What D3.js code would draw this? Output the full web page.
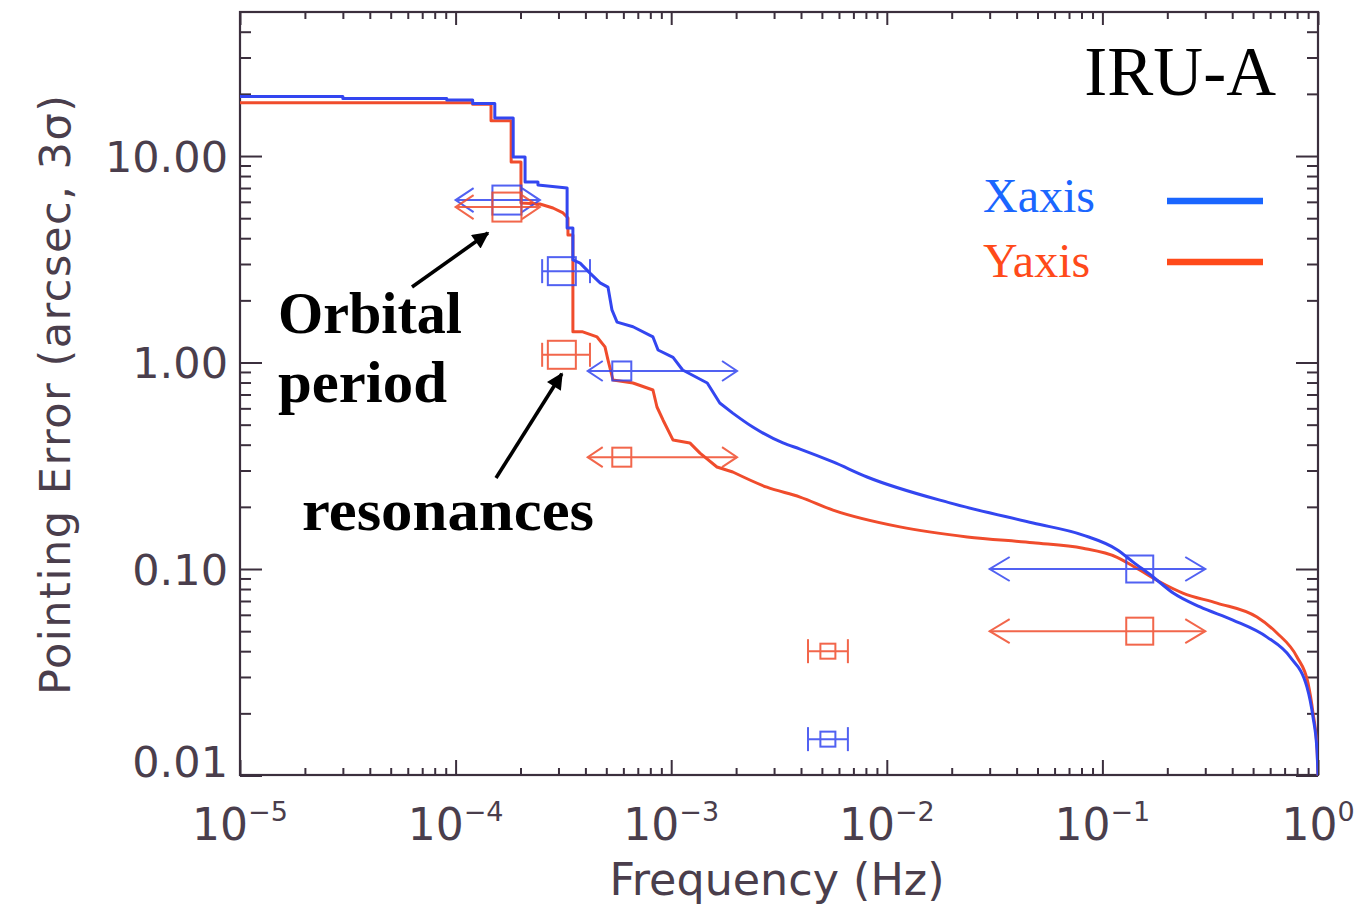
<!DOCTYPE html>
<html>
<head>
<meta charset="utf-8">
<script src="https://cdn.jsdelivr.net/npm/d3@7/dist/d3.min.js"></script>
<style>
  body { margin: 0; background: #fff; }
  svg { display: block; }
</style>
</head>
<body>
<svg id="chart" width="1367" height="909"></svg>
<script>
// ---- axis setup ----
const xDomain = [1e-5, 1];
const yDomain = [0.01, 50];
const xMajorTicks = [1e-5, 1e-4, 1e-3, 1e-2, 1e-1, 1];
const xTickExponents = ["\u22125", "\u22124", "\u22123", "\u22122", "\u22121", "0"];
const yMajorTicks = [0.01, 0.1, 1, 10];
const yTickLabels = ["0.01", "0.10", "1.00", "10.00"];
const xAxisTitle = "Frequency (Hz)";
const yAxisTitle = "Pointing Error (arcsec, 3\u03c3)";
const chartTitle = "IRU-A";
const seriesNames = ["Xaxis", "Yaxis"];

// ---- cumulative pointing error vs frequency [Hz, arcsec] ----
const xaxisCurve = [
  [1e-5, 19.4], [3.0e-5, 19.4], [3.0e-5, 19.0], [9.1e-5, 19.0], [9.1e-5, 18.7],
  [1.20e-4, 18.7], [1.20e-4, 17.96], [1.52e-4, 17.96], [1.52e-4, 15.3],
  [1.85e-4, 15.3], [1.85e-4, 9.89], [2.10e-4, 9.89], [2.10e-4, 7.48],
  [2.41e-4, 7.48], [2.41e-4, 7.24], [3.29e-4, 7.00], [3.29e-4, 4.48],
  [3.50e-4, 4.48], [3.50e-4, 3.14], [3.78e-4, 3.03], [4.20e-4, 2.71],
  [4.68e-4, 2.43], [5.09e-4, 2.32], [5.31e-4, 1.80], [5.61e-4, 1.57],
  [6.65e-4, 1.49], [8.23e-4, 1.33], [8.69e-4, 1.15], [1.02e-3, 1.06],
  [1.13e-3, 0.920], [1.47e-3, 0.796], [1.68e-3, 0.637], [1.93e-3, 0.569],
  [2.39e-3, 0.487], [3.30e-3, 0.408], [3.96e-3, 0.381], [5.63e-3, 0.330],
  [8.10e-3, 0.279], [1.96e-2, 0.209], [4.77e-2, 0.167], [8.13e-2, 0.146],
  [0.117, 0.124], [0.139, 0.108], [0.172, 0.0915], [0.213, 0.0765],
  [0.284, 0.0655], [0.403, 0.0566], [0.580, 0.0468], [0.742, 0.0375],
  [0.889, 0.0268], [0.948, 0.0192], [0.989, 0.0133], [1.0, 0.01]
];
const yaxisCurve = [
  [1e-5, 18.1], [1.20e-4, 18.1], [1.20e-4, 17.8], [1.46e-4, 17.8], [1.46e-4, 14.8],
  [1.81e-4, 14.8], [1.81e-4, 9.35], [2.01e-4, 9.35], [2.01e-4, 5.92],
  [2.46e-4, 5.86], [2.83e-4, 5.60], [3.15e-4, 5.30], [3.32e-4, 5.01],
  [3.32e-4, 4.14], [3.50e-4, 4.14], [3.50e-4, 1.41], [3.86e-4, 1.41],
  [4.53e-4, 1.33], [4.93e-4, 1.19], [5.09e-4, 1.03], [5.37e-4, 0.823],
  [6.65e-4, 0.796], [8.23e-4, 0.736], [8.59e-4, 0.609], [9.16e-4, 0.527],
  [1.02e-3, 0.421], [1.22e-3, 0.408], [1.36e-3, 0.364], [1.63e-3, 0.312],
  [1.93e-3, 0.295], [2.78e-3, 0.249], [3.96e-3, 0.223], [5.63e-3, 0.193],
  [1.15e-2, 0.160], [2.36e-2, 0.143], [4.77e-2, 0.134], [8.13e-2, 0.126],
  [0.117, 0.114], [0.149, 0.0989], [0.185, 0.0865], [0.236, 0.0765],
  [0.340, 0.0684], [0.521, 0.0585], [0.645, 0.0490], [0.799, 0.0375],
  [0.899, 0.0280], [0.948, 0.0201], [0.989, 0.0137], [1.0, 0.01]
];

// ---- requirement markers: band centre, band limits, allocation per axis ----
const markerGroups   = ["orbital", "resonanceA", "resonanceB", "broadband", "minor"];
const markerCenter   = [1.73e-4, 3.11e-4, 5.9e-4, 0.149, 5.33e-3];
const markerLow      = [1.0e-4, 2.52e-4, 4.1e-4, 0.03, 4.31e-3];
const markerHigh     = [2.46e-4, 4.2e-4, 2.02e-3, 0.30, 6.6e-3];
const markerOpenEnds = [true, false, true, true, false];
const xaxisMarkerValues = [6.12, 2.77, 0.91, 0.10, 0.015];
const yaxisMarkerValues = [5.66, 1.09, 0.348, 0.05, 0.04];

// ---- callouts ----
const calloutLines = [["Orbital", "period"], ["resonances"]];

// ---------------------------------------------------------------
const svg = d3.select("#chart");
const frame = { left: 240, right: 1318, top: 12, bottom: 775 };
const x = d3.scaleLog().domain(xDomain).range([frame.left, frame.right]);
const y = d3.scaleLog().domain(yDomain).range([775.5, 11.7]);

const axisInk = "#3b2f3d";
const labelInk = "#4a3e4c";
const blue = "#3346f0", red = "#f04c2c";
const legendBlue = "#1a66ff", legendRed = "#ff4a1a";

function minorTicks(lo, hi) {
  const out = [];
  for (let e = Math.floor(Math.log10(lo)); e < Math.ceil(Math.log10(hi)); e++) {
    for (let k = 2; k < 10; k++) {
      const v = k * Math.pow(10, e);
      if (v > lo * 1.0001 && v < hi * 0.9999) out.push(v);
    }
  }
  return out;
}
const xMinor = minorTicks(xDomain[0], xDomain[1]);
const yMinor = minorTicks(yDomain[0], yDomain[1]);

const defs = svg.append("defs");
defs.append("clipPath").attr("id", "plotClip")
  .append("rect").attr("x", frame.left).attr("y", frame.top)
  .attr("width", frame.right - frame.left).attr("height", frame.bottom - frame.top + 1);

// ---- ticks on all four sides ----
function tickGroup(axisFn, scale, values, size, tx, ty) {
  const g = svg.append("g").attr("transform", `translate(${tx},${ty})`)
    .call(axisFn(scale).tickValues(values).tickSize(size).tickFormat(""));
  g.select(".domain").remove();
  g.selectAll(".tick line").attr("stroke", axisInk).attr("stroke-width", 2);
  return g;
}
tickGroup(d3.axisBottom, x, xMajorTicks, -15, 0, frame.bottom);
tickGroup(d3.axisBottom, x, xMinor, -7, 0, frame.bottom);
tickGroup(d3.axisTop, x, xMajorTicks, -13, 0, frame.top);
tickGroup(d3.axisTop, x, xMinor, -7, 0, frame.top);
tickGroup(d3.axisLeft, y, yMajorTicks, -22, frame.left, 0);
tickGroup(d3.axisLeft, y, yMinor, -11, frame.left, 0);
tickGroup(d3.axisRight, y, yMajorTicks, -22, frame.right, 0);
tickGroup(d3.axisRight, y, yMinor, -11, frame.right, 0);

svg.append("rect")
  .attr("x", frame.left).attr("y", frame.top)
  .attr("width", frame.right - frame.left).attr("height", frame.bottom - frame.top)
  .attr("fill", "none").attr("stroke", axisInk).attr("stroke-width", 2.2);

// ---- tick labels ----
svg.append("g").selectAll("text").data(yMajorTicks).join("text")
  .attr("x", 228)
  .attr("y", d => Math.min(y(d) + 15.5, frame.bottom + 2))
  .attr("text-anchor", "end")
  .attr("font-family", "DejaVu Sans")
  .attr("font-size", 43)
  .attr("fill", labelInk)
  .text((d, i) => yTickLabels[i]);

const xl = svg.append("g").selectAll("text").data(xMajorTicks).join("text")
  .attr("x", d => x(d))
  .attr("y", 840)
  .attr("text-anchor", "middle")
  .attr("font-family", "DejaVu Sans")
  .attr("fill", labelInk);
xl.append("tspan").attr("font-size", 44).text("10");
xl.append("tspan").attr("font-size", 27).attr("dy", -19).text((d, i) => xTickExponents[i]);

// ---- axis titles ----
svg.append("text")
  .attr("x", (frame.left + frame.right) / 2 - 2).attr("y", 895)
  .attr("text-anchor", "middle")
  .attr("font-family", "DejaVu Sans").attr("font-size", 44)
  .attr("textLength", 335).attr("lengthAdjust", "spacingAndGlyphs")
  .attr("fill", labelInk)
  .text(xAxisTitle);

svg.append("text")
  .attr("transform", "translate(70,395) rotate(-90)")
  .attr("text-anchor", "middle")
  .attr("font-family", "DejaVu Sans").attr("font-size", 43)
  .attr("textLength", 600).attr("lengthAdjust", "spacing")
  .attr("fill", labelInk)
  .text(yAxisTitle);

// ---- curves: stepped low-frequency part, smooth roll-off above ~2 mHz ----
const plot = svg.append("g").attr("clip-path", "url(#plotClip)");
const stepLine = d3.line().x(d => x(d[0])).y(d => y(d[1]));
const smoothLine = d3.line().x(d => x(d[0])).y(d => y(d[1])).curve(d3.curveMonotoneX);
const smoothFrom = 1.9e-3;

function drawCurve(data, color) {
  const k = data.findIndex(d => d[0] >= smoothFrom);
  const path = stepLine(data.slice(0, k + 1)) + smoothLine(data.slice(k)).replace(/^M[^A-Za-z]*/, "");
  plot.append("path")
    .attr("d", path)
    .attr("fill", "none").attr("stroke", color)
    .attr("stroke-width", 3).attr("stroke-linejoin", "round");
}
drawCurve(yaxisCurve, red);
drawCurve(xaxisCurve, blue);

// ---- requirement markers ----
const boxSize  = { orbital: 29, resonanceA: 28, resonanceB: 19, broadband: 27, minor: 15 };
const headLen  = { orbital: 18, resonanceB: 15, broadband: 20 };
const headHalf = { orbital: 12, resonanceB: 10, broadband: 12 };
const capHalf  = { resonanceA: 12, minor: 12 };

function drawMarkers(values, color) {
  const g = plot.append("g").attr("stroke", color).attr("fill", "none")
    .attr("stroke-width", 2).attr("opacity", 0.85);
  markerGroups.forEach((name, i) => {
    const cx = x(markerCenter[i]), cy = y(values[i]);
    const x0 = x(markerLow[i]), x1 = x(markerHigh[i]);
    const s = boxSize[name];
    g.append("line").attr("x1", x0).attr("x2", x1).attr("y1", cy).attr("y2", cy);
    g.append("rect").attr("x", cx - s / 2).attr("y", cy - s / 2)
      .attr("width", s).attr("height", s);
    if (markerOpenEnds[i]) {
      const L = headLen[name], h = headHalf[name];
      g.append("path").attr("d", `M${x0 + L},${cy - h}L${x0},${cy}L${x0 + L},${cy + h}`);
      g.append("path").attr("d", `M${x1 - L},${cy - h}L${x1},${cy}L${x1 - L},${cy + h}`);
    } else {
      const h = capHalf[name];
      g.append("line").attr("x1", x0).attr("x2", x0).attr("y1", cy - h).attr("y2", cy + h);
      g.append("line").attr("x1", x1).attr("x2", x1).attr("y1", cy - h).attr("y2", cy + h);
    }
  });
}
drawMarkers(xaxisMarkerValues, blue);
drawMarkers(yaxisMarkerValues, red);

// ---- title and legend ----
svg.append("text").attr("x", 1276).attr("y", 95).attr("text-anchor", "end")
  .attr("font-family", "Liberation Serif").attr("font-size", 69)
  .attr("fill", "#000").text(chartTitle);

const legendColors = [legendBlue, legendRed];
const legendRows = [212, 277];
seriesNames.forEach((name, i) => {
  svg.append("text").attr("x", 983).attr("y", legendRows[i])
    .attr("font-family", "Liberation Serif").attr("font-size", 48)
    .attr("fill", legendColors[i]).text(name);
  svg.append("line").attr("x1", 1167).attr("x2", 1263)
    .attr("y1", legendRows[i] - 11 - i * 4).attr("y2", legendRows[i] - 11 - i * 4)
    .attr("stroke", legendColors[i]).attr("stroke-width", 6.5);
});

// ---- callouts ----
const calloutFont = { "font-family": "Liberation Serif", "font-weight": "bold", "font-size": 60, fill: "#000" };
function callout(xPos, yPos, text, len) {
  const t = svg.append("text").attr("x", xPos).attr("y", yPos)
    .attr("textLength", len).attr("lengthAdjust", "spacingAndGlyphs").text(text);
  Object.entries(calloutFont).forEach(([k, v]) => t.attr(k, v));
}
callout(278, 333, calloutLines[0][0], 184);
callout(278, 402, calloutLines[0][1], 169);
callout(302, 530, calloutLines[1][0], 292);

defs.append("marker").attr("id", "tip")
  .attr("viewBox", "0 0 10 10").attr("refX", 9).attr("refY", 5)
  .attr("markerWidth", 5.2).attr("markerHeight", 4.6).attr("orient", "auto")
  .attr("markerUnits", "strokeWidth")
  .append("path").attr("d", "M0,0L10,5L0,10Z").attr("fill", "#000");

function pointer(x1, y1, x2, y2) {
  svg.append("line").attr("x1", x1).attr("y1", y1).attr("x2", x2).attr("y2", y2)
    .attr("stroke", "#000").attr("stroke-width", 3.6).attr("marker-end", "url(#tip)");
}
// orbital-period arrow ends just below-left of the orbital markers
pointer(412, 287, x(markerCenter[0]) - 19, y(yaxisMarkerValues[0]) + 26);
// resonance arrow ends just below the first resonance marker
pointer(496, 478, x(markerCenter[1]), y(yaxisMarkerValues[1]) + 19);
</script>
</body>
</html>
